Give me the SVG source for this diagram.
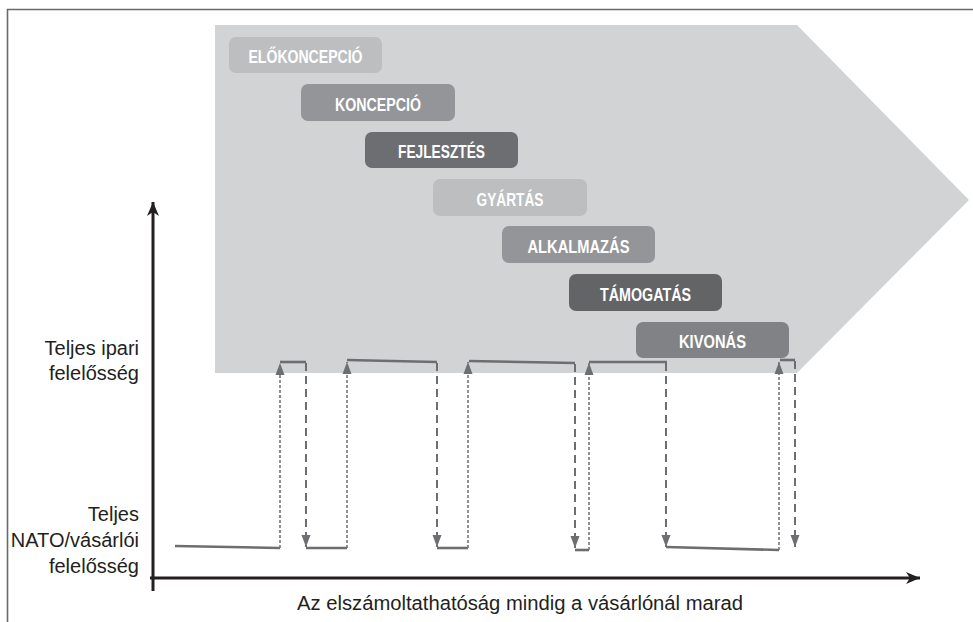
<svg xmlns="http://www.w3.org/2000/svg" width="973" height="622" viewBox="0 0 973 622">
<defs>
<style>
.lbl{font-family:"Liberation Sans",Arial,sans-serif;font-size:20px;fill:#231f20}
.box text{font-family:"Liberation Sans",Arial,sans-serif;font-weight:bold;font-size:18.5px;fill:#ffffff;text-anchor:middle}
.step{fill:none;stroke:#6d6e71;stroke-width:2.6}
.up{fill:none;stroke:#6d6e71;stroke-width:1.5;stroke-dasharray:3 2}
.down{fill:none;stroke:#6d6e71;stroke-width:2;stroke-dasharray:8 5}
.axis{fill:none;stroke:#231f20;stroke-width:3}
</style>
<marker id="ah" markerUnits="userSpaceOnUse" markerWidth="13" markerHeight="10" refX="12" refY="4.5" orient="auto" overflow="visible">
<path d="M0,0 L12,4.5 L0,9 Z" fill="#6d6e71"/>
</marker>
<marker id="ax" markerUnits="userSpaceOnUse" markerWidth="15" markerHeight="12" refX="14" refY="6" orient="auto" overflow="visible">
<path d="M0,0 L14,6 L0,12 L4,6 Z" fill="#231f20"/>
</marker>
</defs>
<rect width="973" height="622" fill="#ffffff"/>
<path d="M7.5,622 L7.5,9.5 L973,9.5" fill="none" stroke="#6a6a6a" stroke-width="1.6"/>
<path id="phase-arrow" d="M215,25 L797,25 L969,200 L797,373 L215,373 Z" fill="#d1d3d4"/>

<g id="elokoncepcio" class="box"><rect x="229" y="37" width="153" height="36" rx="7" fill="#bcbec0"/><text x="305.5" y="63" textLength="114" lengthAdjust="spacingAndGlyphs">ELŐKONCEPCIÓ</text></g>
<g id="koncepcio" class="box"><rect x="301" y="84" width="154" height="37" rx="7" fill="#939598"/><text x="378" y="111" textLength="86" lengthAdjust="spacingAndGlyphs">KONCEPCIÓ</text></g>
<g id="fejlesztes" class="box"><rect x="365" y="132" width="153" height="36" rx="7" fill="#6d6e71"/><text x="441.5" y="158" textLength="87" lengthAdjust="spacingAndGlyphs">FEJLESZTÉS</text></g>
<g id="gyartas" class="box"><rect x="433" y="179" width="154" height="37" rx="7" fill="#bcbec0"/><text x="510" y="206" textLength="67" lengthAdjust="spacingAndGlyphs">GYÁRTÁS</text></g>
<g id="alkalmazas" class="box"><rect x="502" y="226" width="153" height="37" rx="7" fill="#939598"/><text x="578.5" y="253" textLength="102" lengthAdjust="spacingAndGlyphs">ALKALMAZÁS</text></g>
<g id="tamogatas" class="box"><rect x="569" y="274" width="153" height="37" rx="7" fill="#636466"/><text x="645.5" y="301" textLength="91" lengthAdjust="spacingAndGlyphs">TÁMOGATÁS</text></g>
<g id="kivonas" class="box"><rect x="636" y="322" width="153" height="36" rx="7" fill="#808285"/><text x="712.5" y="348" textLength="67" lengthAdjust="spacingAndGlyphs">KIVONÁS</text></g>

<g id="axes">
<line class="axis" x1="153" y1="591" x2="153" y2="202" marker-end="url(#ax)"/>
<line class="axis" x1="150" y1="578" x2="920" y2="578" marker-end="url(#ax)"/>
</g>

<g id="labels">
<text class="lbl" x="139" y="355" text-anchor="end">Teljes ipari</text>
<text class="lbl" x="139" y="380" text-anchor="end">felelősség</text>
<text class="lbl" x="139" y="521" text-anchor="end">Teljes</text>
<text class="lbl" x="139" y="547" text-anchor="end">NATO/vásárlói</text>
<text class="lbl" x="139" y="573" text-anchor="end">felelősség</text>
<text class="lbl" x="520" y="610" text-anchor="middle" textLength="446" lengthAdjust="spacingAndGlyphs">Az elszámoltathatóság mindig a vásárlónál marad</text>
</g>

<g id="connectors">
<path class="step" d="M175,546 L280,548"/>
<path class="step" d="M280,362 L306,362"/>
<path class="step" d="M306,548 L347,548"/>
<path class="step" d="M347,360 L437,362"/>
<path class="step" d="M437,548 L468,548"/>
<path class="step" d="M469,361 L575,363"/>
<path class="step" d="M575,550 L589,550"/>
<path class="step" d="M589,362 L667,362"/>
<path class="step" d="M666,547 L779,550"/>
<path class="step" d="M780,360 L795,360"/>
<line class="up" x1="280" y1="548" x2="280" y2="363" marker-end="url(#ah)"/>
<line class="up" x1="347" y1="548" x2="347" y2="362" marker-end="url(#ah)"/>
<line class="up" x1="468" y1="548" x2="468" y2="362" marker-end="url(#ah)"/>
<line class="up" x1="589" y1="550" x2="589" y2="363" marker-end="url(#ah)"/>
<line class="up" x1="779" y1="550" x2="779" y2="362" marker-end="url(#ah)"/>
<line class="down" x1="306" y1="363" x2="306" y2="547" marker-end="url(#ah)"/>
<line class="down" x1="437" y1="363" x2="437" y2="547" marker-end="url(#ah)"/>
<line class="down" x1="575" y1="364" x2="575" y2="548" marker-end="url(#ah)"/>
<line class="down" x1="666" y1="363" x2="666" y2="547" marker-end="url(#ah)"/>
<line class="down" x1="795" y1="361" x2="795" y2="547" marker-end="url(#ah)"/>
</g>
</svg>
